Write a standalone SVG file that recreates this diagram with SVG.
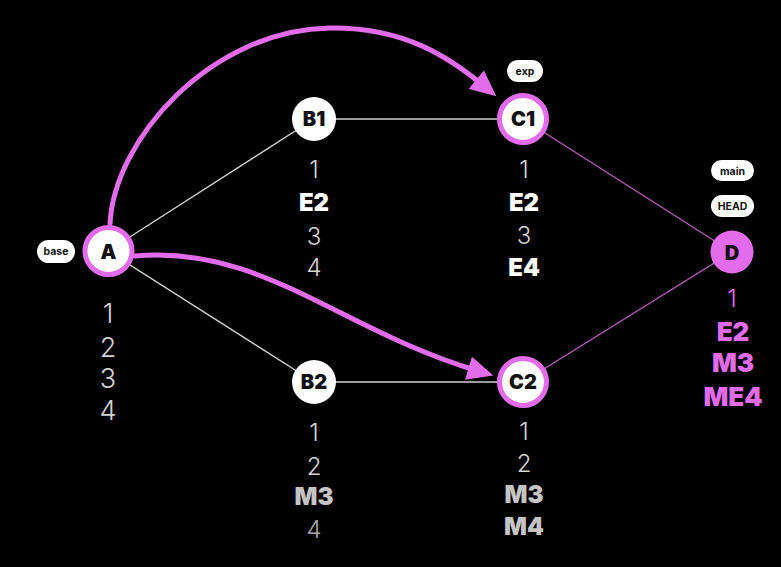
<svg xmlns="http://www.w3.org/2000/svg" width="781" height="567" viewBox="0 0 781 567">
<defs>
<marker id="ah" markerUnits="userSpaceOnUse" markerWidth="26" markerHeight="24" viewBox="0 0 26 24" refX="10" refY="12" orient="auto">
<path d="M0,0 L26,12 L0,24 z" fill="#e36cec"/>
</marker>
</defs>
<style>
.bg{fill:#000}
.thin{stroke:#cfcfcf;stroke-width:1.4;fill:none}
.pthin{stroke:#b65cbc;stroke-width:1.3;fill:none}
.arc{stroke:#e36cec;stroke-width:5;fill:none;stroke-linecap:round}
.ring{fill:#fff;stroke:#e36cec;stroke-width:5}
.plain{fill:#fff}
.nl{font-family:Inter,"Liberation Sans",sans-serif;font-weight:900;font-size:20px;fill:#111;text-anchor:middle}
.pill{fill:#fff}
.pt{font-family:Inter,"Liberation Sans",sans-serif;font-weight:700;font-size:10.5px;fill:#111;text-anchor:middle}
.d{font-family:Inter,"Liberation Sans",sans-serif;font-weight:300;fill:#d4d4d4;text-anchor:middle}
.b{font-family:Inter,"Liberation Sans",sans-serif;font-weight:900;fill:#fff;text-anchor:middle}
.g{fill:#c4c4c4}
.gd{fill:#a8a8a8}
.pk{fill:#e36cec}
</style>
<rect class="bg" x="0" y="0" width="781" height="567"/>
<g id="connectors">
<line class="thin" x1="108" y1="251" x2="314" y2="119"/>
<line class="thin" x1="108" y1="251" x2="314" y2="382"/>
<line class="thin" x1="314" y1="119" x2="523" y2="119"/>
<line class="thin" x1="314" y1="382" x2="523" y2="382"/>
<line class="pthin" x1="523" y1="119" x2="732" y2="252"/>
<line class="pthin" x1="523" y1="382" x2="732" y2="252"/>
<path class="arc" d="M110,224 C114,140 210,30 330,28 C405,27 450,58 484,86" marker-end="url(#ah)"/>
<path class="arc" d="M135,256 C262,245 340,330 478,371" marker-end="url(#ah)"/>
</g>
<g id="node-A">
<circle class="ring" cx="108.5" cy="251" r="23.5"/>
<text class="nl" x="108.5" y="258.5" font-size="21">A</text>
<rect class="pill" x="37" y="240" width="38" height="23" rx="11.5"/>
<text class="pt" x="56" y="255">base</text>
<text class="d" font-size="27" x="108" y="323">1</text>
<text class="d" font-size="27" x="108" y="357">2</text>
<text class="d" font-size="27" x="108" y="388">3</text>
<text class="d" font-size="27" x="108" y="420">4</text>
</g>
<g id="node-B1">
<circle class="plain" cx="314" cy="119" r="22"/>
<text class="nl" x="314" y="126" font-size="18">B1</text>
<text class="d" font-size="24" x="314" y="178">1</text>
<text class="b" font-size="24" x="314" y="211">E2</text>
<text class="d" font-size="24" x="314" y="245">3</text>
<text class="d" font-size="24" x="314" y="276">4</text>
</g>
<g id="node-B2">
<circle class="plain" cx="314" cy="382" r="22"/>
<text class="nl" x="314" y="389" font-size="18">B2</text>
<text class="d" font-size="24" x="314" y="441">1</text>
<text class="d" font-size="24" x="314" y="475">2</text>
<text class="b g" font-size="24" x="314" y="505">M3</text>
<text class="d gd" font-size="24" x="314" y="538">4</text>
</g>
<g id="node-C1">
<circle class="ring" cx="523" cy="119" r="23.5"/>
<text class="nl" x="523" y="126" font-size="19">C1</text>
<rect class="pill" x="507" y="60" width="36" height="22" rx="11"/>
<text class="pt" x="525" y="74.5">exp</text>
<text class="d" font-size="24" x="524" y="178">1</text>
<text class="b" font-size="24" x="524" y="211">E2</text>
<text class="d" font-size="24" x="524" y="244">3</text>
<text class="b" font-size="24" x="524" y="276">E4</text>
</g>
<g id="node-C2">
<circle class="ring" cx="523" cy="382" r="23.5"/>
<text class="nl" x="523" y="389" font-size="19">C2</text>
<text class="d" font-size="24" x="524" y="440">1</text>
<text class="d" font-size="24" x="524" y="472">2</text>
<text class="b g" font-size="24" x="524" y="503">M3</text>
<text class="b g" font-size="24" x="524" y="535">M4</text>
</g>
<g id="node-D">
<circle cx="732" cy="252" r="21.5" fill="#e36cec"/>
<text class="nl" x="732" y="260" font-size="22" fill="#1e0b22">D</text>
<rect class="pill" x="711" y="160" width="43" height="21" rx="10.5"/>
<text class="pt" x="732.5" y="174.5">main</text>
<rect class="pill" x="711" y="195" width="43" height="22" rx="11"/>
<text class="pt" x="732.5" y="210">HEAD</text>
<text class="d pk" font-size="24" x="732" y="307">1</text>
<text class="b pk" font-size="26" x="733" y="341">E2</text>
<text class="b pk" font-size="26" x="733" y="372">M3</text>
<text class="b pk" font-size="26" x="733" y="406">ME4</text>
</g>
</svg>
